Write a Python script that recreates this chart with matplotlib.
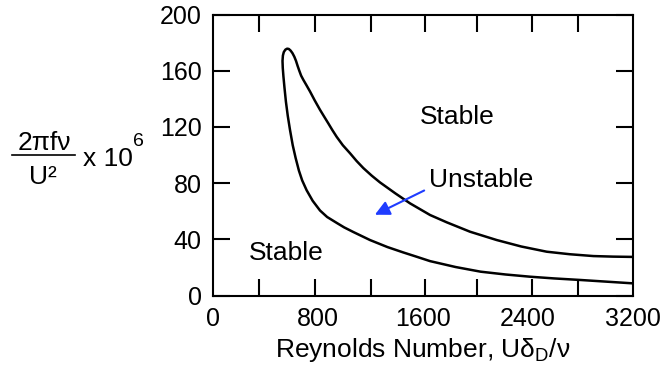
import matplotlib
matplotlib.use('Agg')
import matplotlib.pyplot as plt
from matplotlib.lines import Line2D

plt.rcParams['font.family'] = ['Liberation Sans', 'DejaVu Sans']
plt.rcParams['mathtext.fontset'] = 'custom'
plt.rcParams['mathtext.rm'] = 'Liberation Sans'
plt.rcParams['mathtext.it'] = 'Liberation Sans'

# neutral stability curve (lower branch -> nose -> upper branch)
re_vals = [3200, 3000, 2800, 2600, 2420, 2230, 2040, 1850, 1655, 1550, 1450, 1330,
           1197, 1070, 1000, 943, 870, 816, 760, 714, 680, 655, 630, 608, 587,
           570, 556, 545, 537, 532, 530, 533, 540, 552, 565, 578, 592, 606, 620,
           633, 645, 658, 672, 689, 712, 740, 775, 816, 850, 879, 910, 943,
           990, 1045, 1095, 1146, 1210, 1273, 1390, 1502, 1655, 1782, 1960,
           2163, 2350, 2544, 2720, 2900, 3050, 3200]
freq_vals = [8.8, 10.0, 11.2, 12.3, 13.5, 15.1, 17.1, 20.4, 24.6, 27.8, 30.8, 34.6,
             39.6, 45.3, 48.6, 51.8, 56.0, 60.6, 67.5, 75.0, 82.0, 89.0, 98.0, 107.0, 118.0,
             128.0, 138.0, 148.0, 156.0, 162.0, 167.0, 170.8, 173.3, 175.0, 175.7, 175.5, 174.3, 172.5, 170.0,
             167.0, 163.5, 160.0, 156.5, 153.5, 149.8, 145.2, 139.0, 132.2, 127.0, 122.6, 117.8, 113.0,
             107.0, 101.3, 95.8, 90.8, 85.4, 80.6, 72.8, 65.7, 57.4, 52.2, 45.5,
             39.6, 35.0, 31.3, 29.5, 28.2, 27.8, 27.6]

xlabels = [0, 800, 1600, 2400, 3200]
xmarks = [350, 780, 1205, 1620, 2015, 2430, 2785]
yticks = [0, 40, 80, 120, 160, 200]

fig = plt.figure(figsize=(6.6, 3.69), dpi=100)
ax = fig.add_axes([0.3227, 0.1986, 0.636, 0.7621])

ax.plot(re_vals, freq_vals, color='black', lw=1.8)

ax.set_xlim(0, 3200)
ax.set_ylim(0, 200)
ax.set_xticks(xlabels)
ax.set_xticklabels([str(v) for v in xlabels])
ax.set_xticks(xmarks, minor=True)
ax.set_yticks(yticks)
ax.set_yticklabels([str(v) for v in yticks])
ax.tick_params(axis='x', which='major', length=0, pad=8, labelsize=18)
ax.tick_params(axis='x', which='minor', direction='in', length=12, width=1.5,
               top=True, bottom=True)
ax.tick_params(axis='y', which='major', direction='in', length=12, width=1.5,
               left=True, right=True, pad=8, labelsize=18)
for s in ax.spines.values():
    s.set_linewidth(1.5)

ax.set_xlabel('Reynolds Number, Uδ$_{\\mathrm{D}}$/ν', fontsize=19, labelpad=4)

ax.text(1578, 122.2, 'Stable', fontsize=19, ha='left', va='baseline')
ax.text(277, 25.4, 'Stable', fontsize=19, ha='left', va='baseline')
ax.text(1650, 77.3, 'Unstable', fontsize=19, ha='left', va='baseline')
ax.annotate('', xy=(1215, 56.7), xytext=(1629, 75.7),
            arrowprops=dict(arrowstyle='-|>', color='#1f3cff', lw=1.5,
                            mutation_scale=22))

# y label as a fraction
fig.text(44 / 660, 1 - 150 / 369, '2πfν', fontsize=19, ha='center', va='baseline')
fig.add_artist(Line2D([12 / 660, 75 / 660], [1 - 155 / 369, 1 - 155 / 369],
                      color='black', lw=1.2))
fig.text(43 / 660, 1 - 184 / 369, 'U²', fontsize=19, ha='center', va='baseline')
fig.text(83 / 660, 1 - 166 / 369, 'x 10', fontsize=19, ha='left', va='baseline')
fig.text(133 / 660, 1 - 146 / 369, '6', fontsize=14, ha='left', va='baseline')

fig.savefig('out.png', dpi=100)
